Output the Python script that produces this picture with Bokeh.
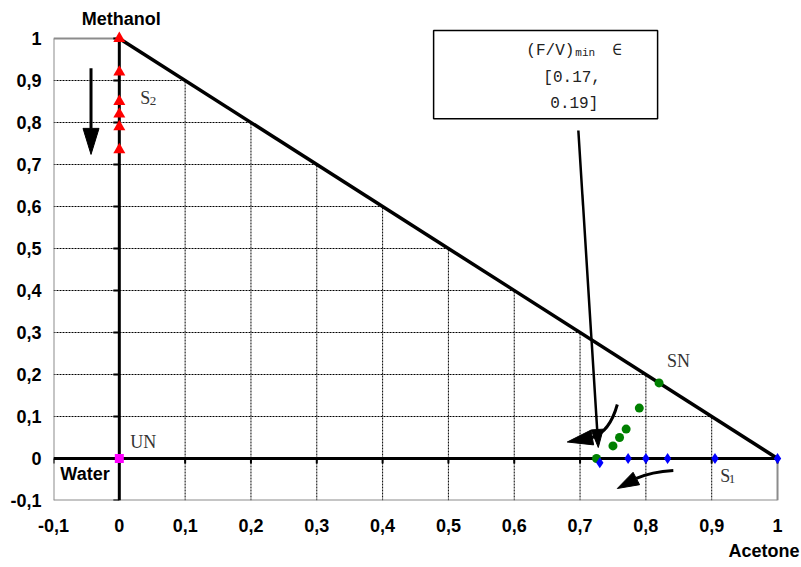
import math
from bokeh.plotting import figure
from bokeh.models import Range1d, FixedTicker, CustomJSTickFormatter, Title
from bokeh.core.properties import value
from bokeh.embed import file_html
from bokeh.resources import INLINE

# ---------------- data ----------------
tick_values = [-0.1, 0.0, 0.1, 0.2, 0.3, 0.4, 0.5, 0.6, 0.7, 0.8, 0.9, 1.0]
grid_values = [0.1, 0.2, 0.3, 0.4, 0.5, 0.6, 0.7, 0.8, 0.9]

# S2 branch (red triangles on the methanol axis)
s2_x = [0.0, 0.0, 0.0, 0.0, 0.0, 0.0]
s2_y = [1.0, 0.92, 0.85, 0.82, 0.79, 0.735]
# SN branch (green circles)
sn_x = [0.725, 0.75, 0.76, 0.77, 0.79, 0.82]
sn_y = [0.0, 0.03, 0.05, 0.07, 0.12, 0.18]
# S1 branch (blue diamonds)
s1_x = [0.73, 0.773, 0.80, 0.833, 0.905, 1.0]
s1_y = [-0.01, 0.0, 0.0, 0.0, 0.0, 0.0]
# UN node
un_x = [0.0]
un_y = [0.0]
# triangle edge (hypotenuse)
edge_x = [0.0, 1.0]
edge_y = [1.0, 0.0]

# ---------------- figure ----------------
PX_X = 658.2   # pixels per unit x
PX_Y = 420.0   # pixels per unit y
X0, Y0 = -0.1, -0.1
W, H = 801, 567
ML, MB = 53, 67
x_end = X0 + (W - ML) / PX_X
y_end = Y0 + (H - MB) / PX_Y
DY = 6 / PX_Y  # text baseline correction

p = figure(width=W, height=H, x_range=Range1d(X0, x_end), y_range=Range1d(Y0, y_end),
           output_backend="svg", toolbar_location=None,
           min_border_left=ML, min_border_right=0, min_border_top=0, min_border_bottom=MB)
p.xgrid.visible = False
p.ygrid.visible = False
p.outline_line_color = None
p.background_fill_color = "white"
p.border_fill_color = "white"

fmt = CustomJSTickFormatter(code="""
const v = Math.round(tick * 10) / 10;
return v.toString().replace('.', ',');
""")
for ax, standoff in ((p.xaxis, 18), (p.yaxis, 12)):
    ax.ticker = FixedTicker(ticks=tick_values)
    ax.formatter = fmt
    ax.axis_line_color = None
    ax.major_tick_line_color = None
    ax.minor_tick_line_color = None
    ax.major_tick_out = 0
    ax.major_tick_in = 0
    ax.major_label_standoff = standoff
    ax.major_label_text_font = "Liberation Sans"
    ax.major_label_text_font_style = "bold"
    ax.major_label_text_font_size = "18px"
    ax.major_label_text_color = "black"

# "Acetone" axis name, right-aligned under the x axis
p.add_layout(Title(text="Acetone", align="right", offset=2, standoff=9,
                   text_font="Liberation Sans", text_font_style="bold",
                   text_font_size="18px", text_color="black"), "below")

# gridlines clipped by the triangle
p.segment(x0=[X0] * len(grid_values), y0=grid_values,
          x1=[1 - g for g in grid_values], y1=grid_values,
          line_color="black", line_width=1, line_dash="2 1")
p.segment(x0=grid_values, y0=[Y0] * len(grid_values),
          x1=grid_values, y1=[1 - g for g in grid_values],
          line_color="black", line_width=1, line_dash="2 1")

# grey border
grey = "#8c8c8c"
p.segment(x0=[X0, X0, X0, 1.0], y0=[Y0, Y0, 1.0, Y0],
          x1=[X0, 1.0, 0.0, 1.0], y1=[1.0, Y0, 1.0, 0.0],
          line_color=grey, line_width=2)

# thick axes and hypotenuse
p.segment(x0=[0.0, X0], y0=[Y0, 0.0], x1=[0.0, 1.0], y1=[1.0, 0.0],
          line_color="black", line_width=3)
p.line(edge_x, edge_y, line_color="black", line_width=3.5)

# small ticks on the thick axes
tl = 6 / PX_X
p.segment(x0=[-tl] * len(tick_values), y0=tick_values, x1=[0.0] * len(tick_values), y1=tick_values,
          line_color="black", line_width=2)
tv = 5 / PX_Y
p.segment(x0=tick_values, y0=[-tv] * len(tick_values), x1=tick_values, y1=[0.0] * len(tick_values),
          line_color="black", line_width=2)

# markers
p.scatter(s2_x, s2_y, marker="triangle", size=12, fill_color="red", line_color=None)
p.scatter(sn_x, sn_y, marker="circle", size=9, fill_color="#008000", line_color=None)
p.scatter(s1_x, s1_y, marker="diamond", size=11, fill_color="blue", line_color=None)
p.scatter(un_x, un_y, marker="square", size=9, fill_color="magenta", line_color=None)


# arrow heads
def head(tip, base, width_px):
    dx = (tip[0] - base[0]) * PX_X
    dy = (tip[1] - base[1]) * PX_Y
    L = math.hypot(dx, dy)
    nx, ny = -dy / L, dx / L
    hw = width_px / 2
    return ([tip[0], base[0] + nx * hw / PX_X, base[0] - nx * hw / PX_X],
            [tip[1], base[1] + ny * hw / PX_Y, base[1] - ny * hw / PX_Y])


heads_x, heads_y = [], []

# vertical down arrow next to S2
a1_start, a1_base, a1_tip = (-0.043, 0.929), (-0.043, 0.786), (-0.043, 0.724)
p.line([a1_start[0], a1_base[0]], [a1_start[1], a1_base[1]], line_color="black", line_width=3)
hx, hy = head(a1_tip, a1_base, 16); heads_x.append(hx); heads_y.append(hy)

# long arrow from the box
a2_start, a2_base, a2_tip = (0.6974, 0.781), (0.7260, 0.069), (0.7277, 0.0262)
p.line([a2_start[0], a2_base[0]], [a2_start[1], a2_base[1]], line_color="black", line_width=2.5)
hx, hy = head(a2_tip, a2_base, 12); heads_x.append(hx); heads_y.append(hy)

# curved arrow (upper, pointing left)
p.bezier(x0=[0.7566], y0=[0.1286], x1=[0.7186], y1=[0.05],
         cx0=[0.749], cy0=[0.0857], cx1=[0.7369], cy1=[0.0595],
         line_color="black", line_width=3)
hx, hy = head((0.6806, 0.0393), (0.7186, 0.05), 15); heads_x.append(hx); heads_y.append(hy)

# curved arrow (lower)
p.bezier(x0=[0.8417], y0=[-0.0286], x1=[0.7855], y1=[-0.0476],
         cx0=[0.8143], cy0=[-0.031], cx1=[0.7991], cy1=[-0.0381],
         line_color="black", line_width=3)
hx, hy = head((0.7566, -0.0714), (0.7855, -0.0476), 14); heads_x.append(hx); heads_y.append(hy)

p.patches(heads_x, heads_y, fill_color="black", line_color="black", line_width=1)

# annotation box
p.quad(left=[0.4775], right=[0.8178], bottom=[0.809], top=[1.019],
       fill_color="white", line_color="black", line_width=1.5)
mono = value("Liberation Mono, DejaVu Sans Mono, monospace")
p.text(x=[0.6184, 0.749, 0.6442, 0.6548],
       y=[0.9548 + DY, 0.9548 + DY, 0.8905 + DY, 0.8286 + DY],
       text=["(F/V)", "\u2208", "[0.17,", "0.19]"], text_font=mono, text_font_size="16px",
       text_align="left", text_baseline="alphabetic", text_color="#222222")
p.text(x=[0.6928], y=[0.952 + DY], text=["min"], text_font=mono, text_font_size="11px",
       text_align="left", text_baseline="alphabetic", text_color="#222222")

# axis/vertex names
sans = value("Liberation Sans")
p.text(x=[0.003], y=[1.031 + DY], text=["Methanol"], text_font=sans, text_font_style="bold",
       text_font_size="18px", text_align="center", text_baseline="alphabetic", text_color="black")
p.text(x=[-0.0896], y=[-0.05 + DY], text=["Water"], text_font=sans, text_font_style="bold",
       text_font_size="18px", text_align="left", text_baseline="alphabetic", text_color="black")

serif = value("Liberation Serif")
p.text(x=[0.0319, 0.832, 0.0167, 0.913],
       y=[0.8429 + DY, 0.2167 + DY, 0.0255 + DY, -0.0571 + DY],
       text=["S", "SN", "UN", "S"], text_font=serif, text_font_size="18px",
       text_align="left", text_baseline="alphabetic", text_color="#333333")
p.text(x=[0.0463, 0.926], y=[0.838 + DY, -0.062 + DY], text=["2", "1"], text_font=serif,
       text_font_size="13px", text_align="left", text_baseline="alphabetic", text_color="#333333")

open("out.html", "w").write(file_html(p, INLINE))
